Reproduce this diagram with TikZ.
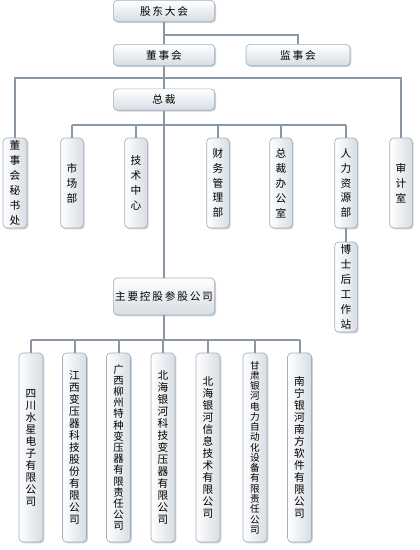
\documentclass[tikz,border=0pt]{standalone}
\usepackage{fontspec}
\setmainfont{Noto Sans CJK SC}
\usetikzlibrary{shadows}
\definecolor{lnc}{HTML}{8A98A6}
\definecolor{bdc}{HTML}{A4AEB8}
\definecolor{shc}{HTML}{D6DDE4}
\tikzset{
  conn/.style={draw=lnc, line width=1.5pt},
  box/.style={draw=bdc, line width=0.5pt, rounded corners=3pt, inner sep=0pt,
    drop shadow={shadow xshift=1pt, shadow yshift=-1pt, fill=gray!60, opacity=0.6}},
  hbox/.style={box, top color=white, bottom color=shc, minimum width=76pt, minimum height=16pt,
    font=\fontsize{8}{9}\selectfont},
  vbox/.style={box, left color=white, right color=shc, minimum width=17pt, minimum height=67.5pt,
    align=center, font=\fontsize{8}{11.2}\selectfont},
  lbox/.style={box, left color=white, right color=shc, minimum width=18pt, minimum height=141.75pt,
    align=center, font=\fontsize{8}{9}\selectfont},
}
\begin{document}
\begin{tikzpicture}[x=0.75pt, y=-0.75pt]
\useasboundingbox (0,0) rectangle (419,550);
% top level
\node[hbox] (gd) at (164,11) {股\,东\,大\,会};
\node[hbox] (dsh) at (164,55) {董\,事\,会};
\node[hbox, minimum width=78pt] (jsh) at (298,55) {监\,事\,会};
\node[hbox] (zc) at (164,99.5) {总\,裁};
% middle row
\node[vbox, minimum width=18pt] (msc) at (15,183) {董\\事\\会\\秘\\书\\处};
\node[vbox] (scb) at (72,183) {市\\场\\部};
\node[vbox] (jszx) at (136,183) {技\\术\\中\\心};
\node[vbox] (cwb) at (218,183) {财\\务\\管\\理\\部};
\node[vbox] (zcb) at (281,183) {总\\裁\\办\\公\\室};
\node[vbox] (rlzy) at (346,183) {人\\力\\资\\源\\部};
\node[vbox] (sjs) at (401,183) {审\\计\\室};
\node[vbox] (bsh) at (346,287) {博\\士\\后\\工\\作\\站};
% holding
\node[hbox, minimum height=27.75pt] (zykg) at (164,296.5) {主\,要\,控\,股\,参\,股\,公\,司};
% bottom row
\node[lbox] (c1) at (31,447.5) {四\\川\\水\\星\\电\\子\\有\\限\\公\\司};
\node[lbox] (c2) at (74.5,447.5) {江\\西\\变\\压\\器\\科\\技\\股\\份\\有\\限\\公\\司};
\node[lbox, font=\fontsize{7.8}{8.4}\selectfont] (c3) at (118.5,447.5) {广\\西\\柳\\州\\特\\种\\变\\压\\器\\有\\限\\责\\任\\公\\司};
\node[lbox] (c4) at (163,447.5) {北\\海\\银\\河\\科\\技\\变\\压\\器\\有\\限\\公\\司};
\node[lbox] (c5) at (208,447.5) {北\\海\\银\\河\\信\\息\\技\\术\\有\\限\\公\\司};
\node[lbox, font=\fontsize{7.2}{7.7}\selectfont] (c6) at (255,447.5) {甘\\肃\\银\\河\\电\\力\\自\\动\\化\\设\\备\\有\\限\\责\\任\\公\\司};
\node[lbox] (c7) at (299.5,447.5) {南\\宁\\银\\河\\南\\方\\软\\件\\有\\限\\公\\司};
% connectors
\coordinate (t1) at (164,35);
\draw[conn] (gd) -- (dsh);
\draw[conn] (t1) -| (jsh);
\draw[conn] (dsh) -- (zc);
\coordinate (b1L) at (15,78);
\coordinate (b1R) at (401,78);
\draw[conn] (msc) -- (b1L) -- (b1R) -- (sjs);
\draw[conn] (zc) -- (zykg);
\coordinate (b2) at (0,125);
\draw[conn] (scb |- b2) -- (rlzy |- b2);
\foreach \n in {scb,jszx,cwb,zcb,rlzy} \draw[conn] (\n |- b2) -- (\n);
\draw[conn] (rlzy) -- (bsh);
\coordinate (b3) at (0,340);
\draw[conn] (zykg) -- (zykg |- b3);
\draw[conn] (c1 |- b3) -- (c7 |- b3);
\foreach \n in {c1,c2,c3,c4,c5,c6,c7} \draw[conn] (\n |- b3) -- (\n);
\end{tikzpicture}
\end{document}
